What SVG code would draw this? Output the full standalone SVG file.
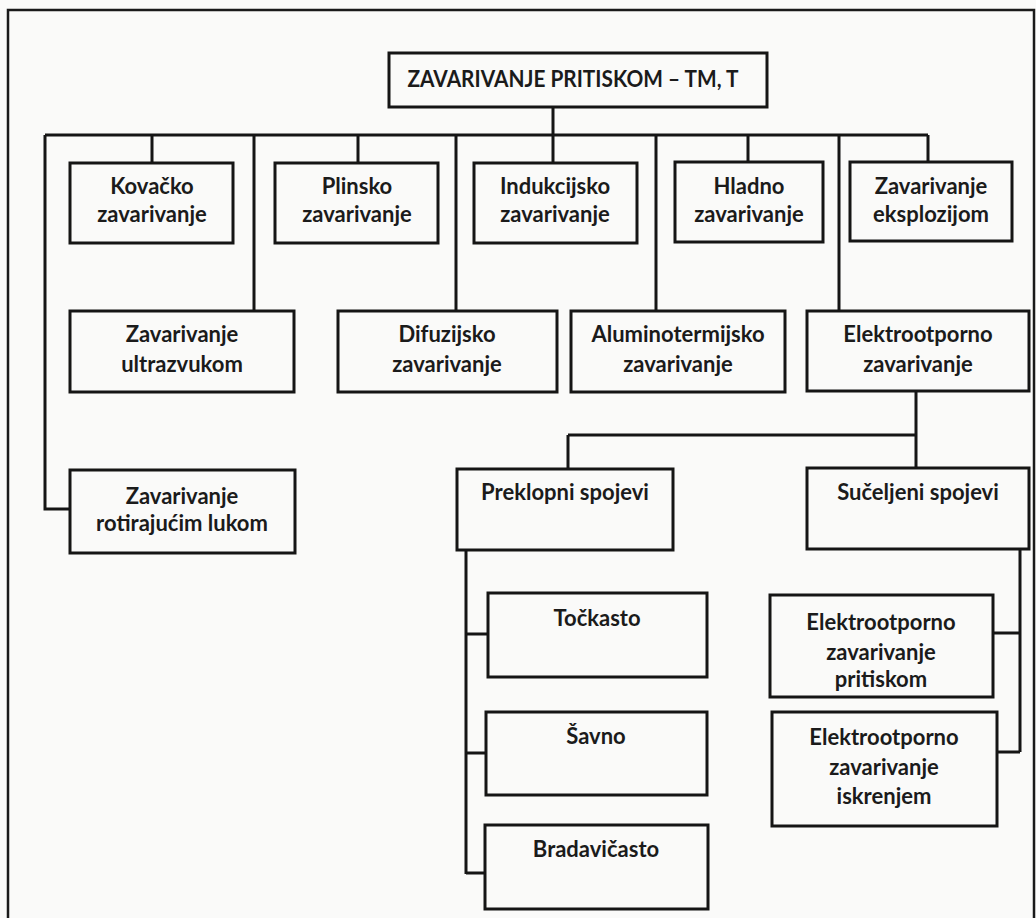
<svg xmlns="http://www.w3.org/2000/svg" width="1036" height="918" viewBox="0 0 1036 918">
<style>
.bg{fill:#fafaf9}
.frame{fill:none;stroke:#1a1a1a;stroke-width:2.5}
.box{fill:none;stroke:#151515;stroke-width:3}
.c{fill:none;stroke:#151515;stroke-width:3}
text{font-family:Lato,"Open Sans","DejaVu Sans",sans-serif;font-size:22px;font-weight:bold;fill:#1b1b1b;text-anchor:middle}
.t{font-size:22px}
</style>
<rect class="bg" x="0" y="0" width="1036" height="918"/>
<rect class="frame" x="8" y="10" width="1026" height="912"/>
<g id="connectors">
<path class="c" d="M553 107V163"/>
<path class="c" d="M45 135H928"/>
<path class="c" d="M45 135V509H70"/>
<path class="c" d="M152 135V163"/>
<path class="c" d="M254 135V311"/>
<path class="c" d="M358 135V163"/>
<path class="c" d="M456 135V311"/>
<path class="c" d="M656 135V311"/>
<path class="c" d="M748 135V163"/>
<path class="c" d="M839 135V311"/>
<path class="c" d="M928 135V163"/>
<path class="c" d="M916 391V468"/>
<path class="c" d="M568 435H916"/>
<path class="c" d="M568 435V469"/>
<path class="c" d="M466 550V874"/>
<path class="c" d="M466 634H488"/>
<path class="c" d="M466 753H487"/>
<path class="c" d="M466 873H486"/>
<path class="c" d="M1020 549V752"/>
<path class="c" d="M993 633H1020"/>
<path class="c" d="M997 752H1020"/>
</g>
<g id="n_title"><rect class="box" x="389" y="53" width="378" height="54"/><text class="t" x="573" y="87" textLength="331" lengthAdjust="spacingAndGlyphs">ZAVARIVANJE PRITISKOM – TM, T</text></g>
<g id="n_kovacko"><rect class="box" x="70" y="163" width="163" height="80"/><text x="152" y="194">Kovačko</text><text x="152" y="222">zavarivanje</text></g>
<g id="n_plinsko"><rect class="box" x="275" y="163" width="163" height="80"/><text x="357" y="194">Plinsko</text><text x="357" y="222">zavarivanje</text></g>
<g id="n_indukcijsko"><rect class="box" x="474" y="163" width="163" height="80"/><text x="555" y="194">Indukcijsko</text><text x="555" y="222">zavarivanje</text></g>
<g id="n_hladno"><rect class="box" x="675" y="162" width="148" height="80"/><text x="749" y="194">Hladno</text><text x="749" y="222">zavarivanje</text></g>
<g id="n_eksplozijom"><rect class="box" x="850" y="162" width="162" height="79"/><text x="931" y="194">Zavarivanje</text><text x="931" y="222">eksplozijom</text></g>
<g id="n_ultrazvukom"><rect class="box" x="70" y="311" width="224" height="81"/><text x="182" y="342">Zavarivanje</text><text x="182" y="372">ultrazvukom</text></g>
<g id="n_difuzijsko"><rect class="box" x="338" y="311" width="219" height="81"/><text x="447" y="342">Difuzijsko</text><text x="447" y="372">zavarivanje</text></g>
<g id="n_aluminotermijsko"><rect class="box" x="571" y="311" width="214" height="81"/><text x="678" y="342">Aluminotermijsko</text><text x="678" y="372">zavarivanje</text></g>
<g id="n_elektrootporno"><rect class="box" x="807" y="311" width="222" height="80"/><text x="918" y="342">Elektrootporno</text><text x="918" y="372">zavarivanje</text></g>
<g id="n_rotirajucim"><rect class="box" x="70" y="470" width="225" height="83"/><text x="182" y="504">Zavarivanje</text><text x="182" y="531">rotirajućim lukom</text></g>
<g id="n_preklopni"><rect class="box" x="457" y="469" width="216" height="81"/><text x="565" y="500">Preklopni spojevi</text></g>
<g id="n_suceljeni"><rect class="box" x="807" y="468" width="222" height="81"/><text x="918" y="500">Sučeljeni spojevi</text></g>
<g id="n_tockasto"><rect class="box" x="488" y="593" width="219" height="84"/><text x="597" y="626">Točkasto</text></g>
<g id="n_savno"><rect class="box" x="486" y="712" width="221" height="83"/><text x="596" y="744">Šavno</text></g>
<g id="n_bradavicasto"><rect class="box" x="485" y="825" width="223" height="84"/><text x="596" y="857">Bradavičasto</text></g>
<g id="n_pritiskom"><rect class="box" x="770" y="595" width="223" height="102"/><text x="881" y="630">Elektrootporno</text><text x="881" y="660">zavarivanje</text><text x="881" y="687">pritiskom</text></g>
<g id="n_iskrenjem"><rect class="box" x="772" y="712" width="225" height="114"/><text x="884" y="745">Elektrootporno</text><text x="884" y="775">zavarivanje</text><text x="884" y="804">iskrenjem</text></g>
</svg>
